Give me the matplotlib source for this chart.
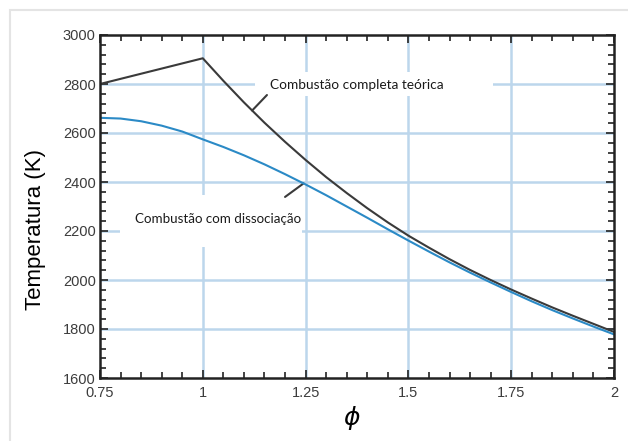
import matplotlib.pyplot as plt
import matplotlib.patches as mpatches
import numpy as np

# razão de equivalência (phi) x temperatura adiabática de chama (K)
phi_teorica = [0.75, 1.0, 1.05, 1.1, 1.15, 1.2, 1.25, 1.3, 1.35, 1.4, 1.45, 1.5,
               1.55, 1.6, 1.65, 1.7, 1.75, 1.8, 1.85, 1.9, 1.95, 2.0]
temp_teorica = [2800, 2905, 2813, 2725, 2642, 2564, 2490, 2420, 2355, 2293, 2235, 2181,
                2132, 2085, 2041, 2000, 1961, 1924, 1888, 1854, 1821, 1788]

phi_dissoc = [0.75, 0.8, 0.85, 0.9, 0.95, 1.0, 1.05, 1.1, 1.15, 1.2, 1.25, 1.3, 1.35,
              1.4, 1.45, 1.5, 1.55, 1.6, 1.65, 1.7, 1.75, 1.8, 1.85, 1.9, 1.95, 2.0]
temp_dissoc = [2662, 2659, 2648, 2630, 2606, 2574, 2543, 2509, 2472, 2432, 2390, 2346,
               2300, 2254, 2207, 2161, 2116, 2072, 2030, 1990, 1951, 1913, 1877, 1843,
               1810, 1778]

x_ticks = [0.75, 1.0, 1.25, 1.5, 1.75, 2.0]
x_ticklabels = ["0.75", "1", "1.25", "1.5", "1.75", "2"]
y_ticks = [1600, 1800, 2000, 2200, 2400, 2600, 2800, 3000]

cor_grade = "#bcd6ec"
cor_preta = "#3a3a3a"
cor_azul = "#2b8ac6"
cor_ticks = "#3c3c3c"

fig = plt.figure(figsize=(6.28, 4.41), dpi=100)
ax = fig.add_axes([100 / 628, 63 / 441, 514 / 628, 343 / 441])

# moldura cinza clara em volta da figura
fig.patches.append(mpatches.Rectangle((10 / 628, -0.1), 1.2, (431 / 441) + 0.1,
                                      transform=fig.transFigure, fill=False,
                                      edgecolor="#e4e4e4", linewidth=1.5))

ax.set_xlim(0.75, 2.0)
ax.set_ylim(1600, 3000)

for xv in x_ticks[1:-1]:
    ax.axvline(xv, color=cor_grade, linewidth=1.8, zorder=1)
for yv in y_ticks[1:-1]:
    ax.axhline(yv, color=cor_grade, linewidth=1.8, zorder=1)

ax.plot(phi_teorica, temp_teorica, color=cor_preta, linewidth=1.5, zorder=4)
ax.plot(phi_dissoc, temp_dissoc, color=cor_azul, linewidth=1.5, zorder=4)

# fundos brancos das legendas (cortam a grade)
ax.add_patch(mpatches.Rectangle((1.127, 2751), 0.579, 98, facecolor="white",
                                edgecolor="none", zorder=2))
ax.add_patch(mpatches.Rectangle((0.799, 2135), 0.442, 212, facecolor="white",
                                edgecolor="none", zorder=2))

ax.text(1.163, 2796, "Combustão completa teórica", fontsize=9.8, family="Lato",
        ha="left", va="center", color="#1a1a1a", zorder=3)
ax.text(0.835, 2249, "Combustão com dissociação", fontsize=9.6, family="Lato",
        ha="left", va="center", color="#1a1a1a", zorder=3)

# linhas indicadoras
p1 = 1.12
ax.annotate("", xy=(p1, np.interp(p1, phi_teorica, temp_teorica)), xytext=(1.156, 2755),
            arrowprops=dict(arrowstyle="-", color=cor_preta, lw=1.5,
                            shrinkA=0, shrinkB=0), zorder=3)
p2 = 1.245
ax.annotate("", xy=(p2, np.interp(p2, phi_dissoc, temp_dissoc)), xytext=(1.2, 2339),
            arrowprops=dict(arrowstyle="-", color=cor_preta, lw=1.5,
                            shrinkA=0, shrinkB=0), zorder=3)

ax.set_xticks(x_ticks)
ax.set_xticklabels(x_ticklabels)
ax.set_yticks(y_ticks)
ax.set_xticks(np.arange(0.75, 2.0001, 0.05), minor=True)
ax.set_yticks(np.arange(1600, 3000.1, 40), minor=True)

ax.tick_params(which="both", direction="in", top=True, right=True, color="#222222")
ax.tick_params(which="major", length=6, width=1.2)
ax.tick_params(which="minor", length=4, width=1.2)
ax.tick_params(axis="x", which="major", pad=6, labelsize=10.5, labelcolor=cor_ticks)
ax.tick_params(axis="y", which="major", pad=3, labelsize=10.5, labelcolor=cor_ticks)
for lbl in ax.get_xticklabels() + ax.get_yticklabels():
    lbl.set_family("Liberation Sans")

for sp in ax.spines.values():
    sp.set_color("#222222")
    sp.set_linewidth(1.8)
    sp.set_zorder(5)

ax.set_ylabel("Temperatura (K)", fontsize=16, family="Liberation Sans")
ax.yaxis.set_label_coords(-0.105, 0.434)
ax.set_xlabel(r"$\phi$", fontsize=18)
ax.xaxis.set_label_coords(0.49, -0.075)

fig.savefig("out.png", dpi=100)
